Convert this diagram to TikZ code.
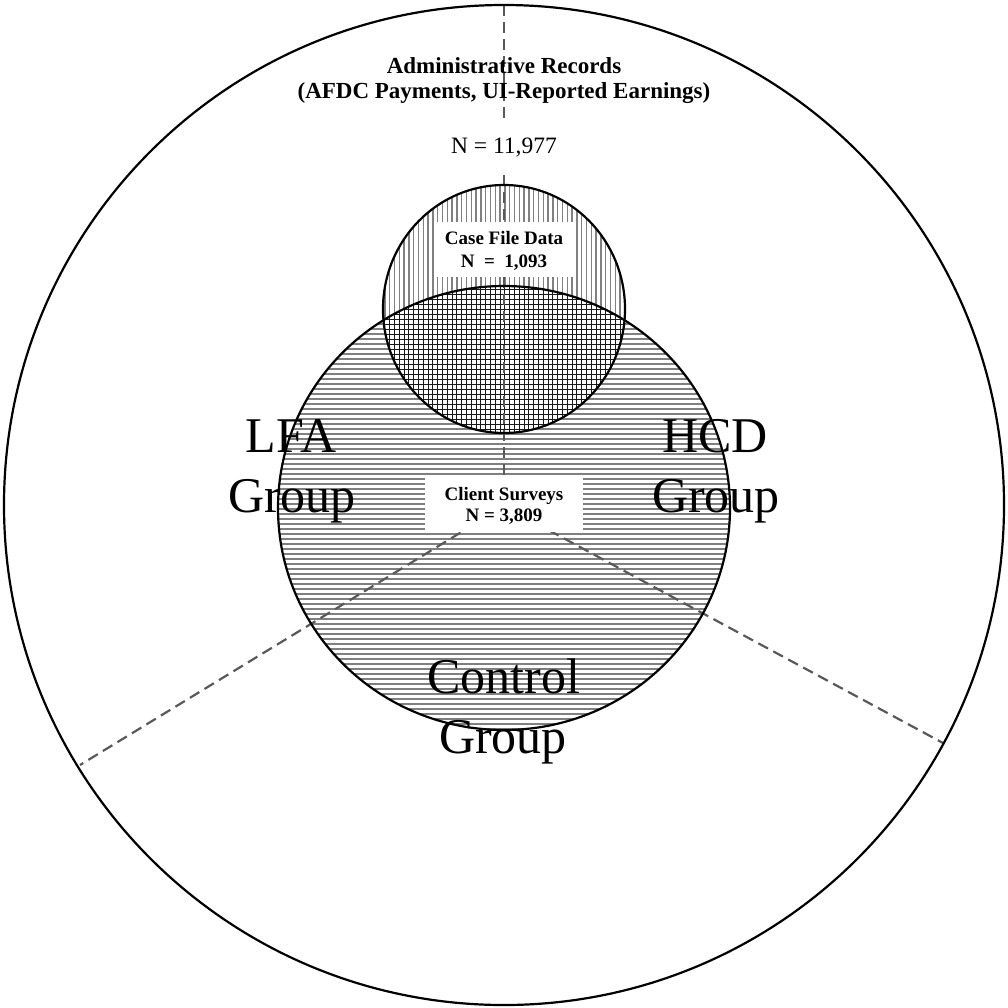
\documentclass[tikz,border=0pt]{standalone}
\usepackage{fontspec}
\setmainfont{Liberation Serif}
\begin{document}
\begin{tikzpicture}[x=1pt,y=-1pt,
  outline/.style={draw=black, line width=2.2pt},
  divider/.style={draw=black!65, line width=2.2pt, dash pattern=on 11pt off 6pt},
  hatch/.style={draw=black!50, line width=1.4pt},
  gridline/.style={draw=black!90, line width=0.9pt},
  whitebox/.style={fill=white, draw=none, inner sep=0pt},
  smalllbl/.style={font=\bfseries\fontsize{19}{23}\selectfont, inner sep=0pt},
  titlelbl/.style={font=\bfseries\fontsize{23}{25}\selectfont, inner sep=0pt},
  countlbl/.style={font=\fontsize{23.5}{25}\selectfont},
  biglbl/.style={font=\fontsize{50}{60}\selectfont, inner sep=0pt},
]
\useasboundingbox (0,0) rectangle (1008,1007);
\coordinate (O) at (504,505);
\coordinate (S) at (504,309);
\coordinate (M) at (504,508);
\coordinate (C) at (504,506);
\coordinate (topend) at (504,5);
\coordinate (leftend) at (80,765);
\coordinate (rightend) at (943,743);

% horizontal hatching of the survey circle
\begin{scope}
  \clip (M) ellipse[x radius=226pt, y radius=222pt];
  \foreach \yy in {284,289,...,734} \draw[hatch] (270,\yy) -- (740,\yy);
\end{scope}
% vertical hatching of the case-file circle
\begin{scope}
  \clip (S) ellipse[x radius=121pt, y radius=124pt];
  \foreach \k in {0,...,52} \draw[hatch] (380+4.8*\k,180) -- (380+4.8*\k,440);
\end{scope}
% cross-hatched intersection
\begin{scope}
  \clip (S) ellipse[x radius=121pt, y radius=124pt];
  \clip (M) ellipse[x radius=226pt, y radius=222pt];
  \fill[white] (378,280) rectangle (632,440);
  \foreach \k in {0,...,52} \draw[gridline] (380+4.8*\k,280) -- (380+4.8*\k,440);
  \foreach \yy in {284,289,...,439} \draw[gridline] (378,\yy) -- (632,\yy);
\end{scope}

% dividers
\draw[divider] (topend) -- (C);
\draw[divider] (C) -- (leftend);
\draw[divider] (C) -- (rightend);

% outlines
\draw[outline] (O) circle[radius=500pt];
\draw[outline] (M) ellipse[x radius=226pt, y radius=222pt];
\draw[outline] (S) ellipse[x radius=121pt, y radius=124pt];

% administrative records
\node[titlelbl, anchor=base] (admin1) at (504,73) {Administrative Records};
\node[titlelbl, anchor=base] (admin2) at (504,98) {(AFDC Payments, UI-Reported Earnings)};
\node[countlbl, fill=white, anchor=base, inner xsep=6pt, inner ysep=14pt, text height=16pt, text depth=3pt] (ncount) at (504,153) {N = 11,977};

% case file box
\node[whitebox, minimum width=140pt, minimum height=55pt] (casebox) at (505,249.5) {};
\node[smalllbl, anchor=base] (case1) at (504,244) {Case File Data};
\node[smalllbl, anchor=base] (case2) at (504,267) {N\ \ =\ \ 1,093};

% client surveys box
\node[whitebox, minimum width=158pt, minimum height=57pt] (survbox) at (504,503.5) {};
\node[smalllbl, anchor=base] (surv1) at (504,500) {Client Surveys};
\node[smalllbl, anchor=base] (surv2) at (504,521) {N = 3,809};

% group labels
\node[biglbl, anchor=base] (lfa1) at (291,452) {LFA};
\node[biglbl, anchor=base] (lfa2) at (292,512) {Group};
\node[biglbl, anchor=base] (hcd1) at (715,452) {HCD};
\node[biglbl, anchor=base] (hcd2) at (716,512) {Group};
\node[biglbl, anchor=base] (ctl1) at (504,693) {Control};
\node[biglbl, anchor=base] (ctl2) at (503,753) {Group};
\end{tikzpicture}
\end{document}
